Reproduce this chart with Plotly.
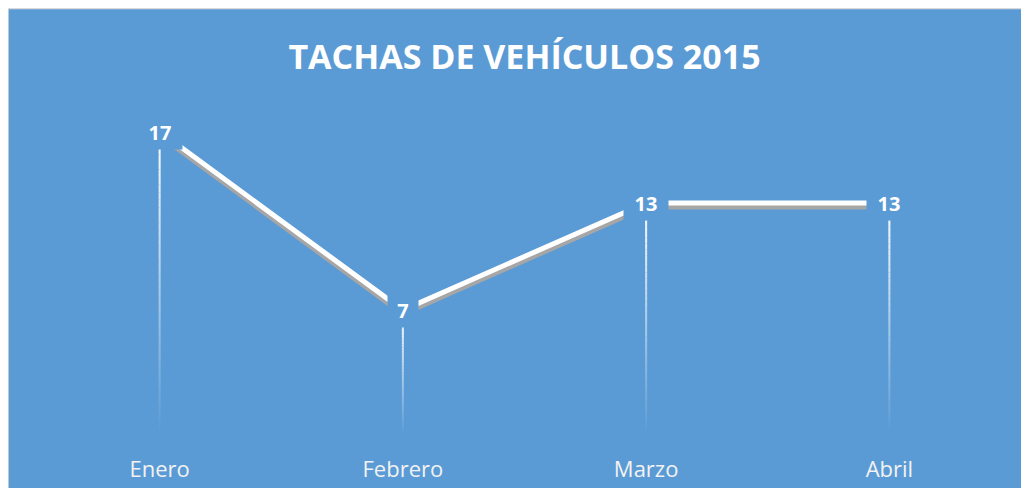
import plotly.graph_objects as go

months = ["Enero", "Febrero", "Marzo", "Abril"]
values = [17, 7, 13, 13]
title_text = "TACHAS DE VEHÍCULOS 2015"

BLUE = "#5B9BD5"
W, H = 1029, 488
ML, MR, MT, MB = 30, 26, 70, 61
YMAX = 20
plot_h = H - MT - MB
plot_w = W - ML - MR
px_per_unit = plot_h / YMAX
shadow_shift = 4 / px_per_unit

fig = go.Figure()

# fading drop lines (segments of rising opacity)
N = 40
for k in range(N):
    fig.add_trace(go.Bar(
        x=months,
        base=[v * k / N for v in values],
        y=[v / N for v in values],
        width=0.0085,
        marker=dict(color=f"rgba(255,255,255,{(k + 0.5) / N:.3f})", line=dict(width=0)),
        hoverinfo="skip", showlegend=False, yaxis="y",
    ))

# shadow of line
fig.add_trace(go.Scatter(
    x=months, y=values, mode="lines", yaxis="y2",
    line=dict(color="#A6A6A6", width=5), hoverinfo="skip", showlegend=False,
))
# main line
fig.add_trace(go.Scatter(
    x=months, y=values, mode="lines", yaxis="y3",
    line=dict(color="white", width=5), showlegend=False,
))

annotations = []
for m, v in zip(months, values):
    t = str(v)
    annotations.append(dict(
        x=m, y=v, xref="x", yref="y", text=f"<b>{t}</b>", showarrow=False,
        font=dict(family="Open Sans", size=20, color="white"),
        bgcolor=BLUE, borderpad=0, width=16 + 14 * len(t), height=34,
        xanchor="center", yanchor="middle",
    ))

fig.update_layout(
    width=W, height=H,
    margin=dict(l=ML, r=MR, t=MT, b=MB, pad=0),
    paper_bgcolor=BLUE, plot_bgcolor="rgba(0,0,0,0)",
    barmode="overlay",
    title=dict(text=f"<b>{title_text}</b>", x=0.5, xref="paper", xanchor="center",
               y=1 - 49 / H, yref="container", yanchor="middle",
               font=dict(family="Open Sans", size=34, color="white")),
    xaxis=dict(type="category", range=[-0.5, len(months) - 0.5], showgrid=False,
               zeroline=False, showline=False, ticks="", ticklabelstandoff=19,
               tickfont=dict(family="Open Sans", size=22, color="#F2F2F2"), fixedrange=True),
    yaxis=dict(range=[0, YMAX], visible=False, fixedrange=True),
    yaxis2=dict(range=[shadow_shift, YMAX + shadow_shift], overlaying="y", visible=False),
    yaxis3=dict(range=[0, YMAX], overlaying="y", visible=False),
    annotations=annotations,
    shapes=[dict(type="rect", xref="paper", yref="paper", layer="below",
                 x0=-ML / plot_w, x1=(W + 4 - ML) / plot_w,
                 y0=-(MB + 4) / plot_h, y1=(H - MB - 0.5) / plot_h,
                 fillcolor=BLUE, line=dict(color="#D9D9D9", width=1.5))],
)

fig.write_html("out.html")
